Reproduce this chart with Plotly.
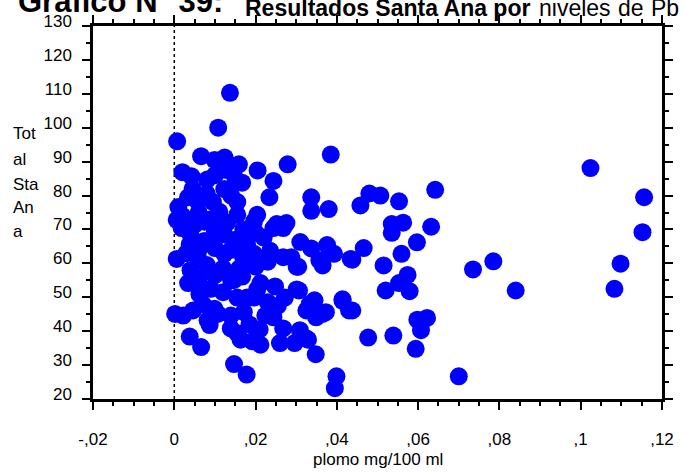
import plotly.graph_objects as go

# Blood lead (mg/100 ml) vs. Santa Ana total score
plomo = [
    0.0385, 0.1024, 0.1156, 0.1152, 0.1098, 0.1083, 0.0840, 0.0785, 0.0735, 0.0700,
    0.0642, 0.0632, 0.0597, 0.0559, 0.0553, 0.0535, 0.0563, 0.0535, 0.0515, 0.0574,
    0.0553, 0.0579, 0.0520, 0.0507, 0.0480, 0.0458, 0.0466, 0.0438, 0.0414, 0.0438,
    0.0477, 0.0539, 0.0594, 0.0598, 0.0622, 0.0607, 0.0399, 0.0395, 0.0337, 0.0337,
    0.0380, 0.0310, 0.0337, 0.0376, 0.0393, 0.0357, 0.0365, 0.0305, 0.0307, 0.0345,
    0.0325, 0.0365, 0.0349, 0.0309, 0.0329, 0.0348,
    0.0137, 0.0108, 0.0007, 0.0066, 0.0099, 0.0124, 0.0159, 0.0205, 0.0279, 0.0244,
    0.0234, 0.0020, 0.0042, 0.0276, 0.0252,
    0.0081, 0.0151, 0.0167, 0.0123, 0.0034, 0.0058, 0.0010, 0.0095, 0.0111, 0.0155,
    0.0155, 0.0204, 0.0196, 0.0244, 0.0268, 0.0006, 0.0018, 0.0050, 0.0074, 0.0123,
    0.0074, 0.0038, 0.0179, 0.0220, 0.0236, 0.0006, 0.0058, 0.0123, 0.0196, 0.0268,
    0.0045, 0.0100, 0.0130, 0.0140, 0.0080, 0.0020, 0.0060, 0.0090, 0.0130, 0.0170,
    0.0100, 0.0040, 0.0150, 0.0200, 0.0060, 0.0100, 0.0140, 0.0170, 0.0030, 0.0080,
    0.0120, 0.0040, 0.0160, 0.0200, 0.0230, 0.0100, 0.0060, 0.0140,
    0.0034, 0.0062, 0.0002, 0.0022, 0.0046, 0.0038, 0.0066, 0.0099, 0.0087, 0.0082,
    0.0139, 0.0155, 0.0171, 0.0192, 0.0212, 0.0147, 0.0178, 0.0224, 0.0244, 0.0268,
    0.0260, 0.0296, 0.0325, 0.0179, 0.0204, 0.0155, 0.0107, 0.0139, 0.0163, 0.0196,
    0.0248, 0.0272, 0.0301, 0.0349, 0.0373, 0.0333, 0.0288, 0.0301, 0.0147, 0.0212,
    0.0167, 0.0414, 0.0430, 0.0434,
    0.0090, 0.0120, 0.0070, 0.0230, 0.0185, 0.0210, 0.0255,
]
santa_ana = [
    92.1, 88.1, 79.5, 69.2, 59.9, 52.5, 52.0, 60.6, 58.2, 26.7,
    81.7, 70.8, 66.2, 62.8, 78.3, 71.6, 72.0, 69.0, 59.4, 56.6,
    54.2, 51.8, 52.0, 80.0, 80.6, 77.1, 64.5, 61.1, 48.9, 46.1,
    38.1, 38.7, 34.8, 43.4, 43.9, 40.3, 26.7, 23.2, 79.5, 75.5,
    76.0, 66.3, 64.4, 65.4, 62.8, 60.9, 59.4, 59.0, 52.0, 49.1,
    46.1, 45.1, 44.1, 40.3, 37.5, 33.2,
    110.3, 100.0, 96.0, 91.6, 90.5, 91.2, 89.2, 87.4, 89.2, 84.3,
    79.5, 86.9, 85.7, 71.9, 71.6,
    84.7, 84.7, 83.8, 81.9, 79.5, 78.1, 76.6, 78.1, 75.2, 78.1,
    74.3, 74.3, 72.3, 70.4, 70.4, 72.8, 70.4, 71.4, 72.3, 68.5,
    66.6, 65.6, 65.6, 67.6, 63.7, 61.3, 61.8, 62.8, 62.8, 61.8,
    82.0, 86.0, 87.5, 80.0, 80.5, 74.0, 75.0, 73.0, 72.0, 70.0,
    69.5, 68.5, 67.0, 69.0, 64.0, 64.5, 64.0, 61.5, 63.0, 59.5,
    58.5, 58.0, 58.5, 59.0, 60.5, 56.5, 55.5, 55.0,
    54.2, 50.9, 45.1, 44.6, 46.1, 38.4, 35.3, 46.6, 41.8, 43.2,
    44.6, 39.4, 45.6, 37.0, 36.0, 30.3, 27.2, 44.6, 44.1, 40.8,
    36.5, 36.5, 37.9, 49.9, 52.3, 49.9, 45.1, 40.8, 37.5, 49.9,
    53.2, 49.9, 52.3, 46.1, 45.6, 48.0, 61.8, 59.0, 55.1, 54.2,
    56.1, 49.4, 46.1, 61.3,
    52.5, 51.5, 48.0, 48.5, 42.0, 40.5, 47.5,
]

x_ticks = [-0.02, 0, 0.02, 0.04, 0.06, 0.08, 0.10, 0.12]
x_tick_text = ["-,02", "0", ",02", ",04", ",06", ",08", ",1", ",12"]
y_ticks = [20, 30, 40, 50, 60, 70, 80, 90, 100, 110, 120, 130]

FONT = "Arial, Liberation Sans, sans-serif"

fig = go.Figure()
fig.add_trace(go.Scatter(
    x=plomo, y=santa_ana, mode="markers",
    marker=dict(size=18, color="#0000FF", line=dict(width=0)),
    cliponaxis=False, showlegend=False,
))

# dotted reference line at zero lead
fig.add_shape(type="line", xref="x", yref="paper", x0=0, x1=0, y0=0, y1=1,
              line=dict(color="black", width=1.5, dash="dot"), layer="below")

axis_common = dict(
    showgrid=False, zeroline=False, showline=True, linecolor="black", linewidth=2.5,
    mirror="allticks", ticks="outside", ticklen=8, tickwidth=2, tickcolor="black",
    tickfont=dict(family=FONT, size=17, color="black"),
)

fig.update_xaxes(
    range=[-0.02, 0.12], tickvals=x_ticks, ticktext=x_tick_text,
    minor=dict(dtick=0.005, ticks="outside", ticklen=4, tickwidth=2, tickcolor="black"),
    ticklabelstandoff=15, **axis_common,
)
fig.update_yaxes(
    range=[20, 130], tickvals=y_ticks,
    minor=dict(dtick=5, ticks="outside", ticklen=4, tickwidth=2, tickcolor="black"),
    ticklabelstandoff=7, ticklabelshift=-5, **axis_common,
)

annotations = [
    dict(text="plomo mg/100 ml", x=0.5, y=-0.163, xref="paper", yref="paper",
         xanchor="center", yanchor="middle", showarrow=False,
         font=dict(family=FONT, size=17, color="black")),
]
y_title_rows = [("Tot", 126), ("al", 152), ("Sta", 178), ("An", 202), ("a", 227)]
for part, py in y_title_rows:
    annotations.append(dict(
        text=part, x=-83 / 578, y=(399 - py) / 384,
        xref="paper", yref="paper", xanchor="left", yanchor="middle",
        showarrow=False, font=dict(family=FONT, size=17, color="black")))

title_parts = [
    ("<b>Grafico N° 39:</b>", 15, 31, 5),
    ("<b>Resultados Santa Ana por</b>", 245, 23, 3),
    ("niveles", 544, 23, 3),
    ("de", 624, 23, 3),
    ("Pb", 658, 23, 3),
]
for text, px, size, shift in title_parts:
    annotations.append(dict(
        text=text, x=(px - 93) / 578, y=1, xref="paper", yref="paper",
        xanchor="left", yanchor="bottom", yshift=shift, showarrow=False,
        font=dict(family=FONT, size=size, color="black")))

fig.update_layout(
    width=686, height=472,
    margin=dict(l=93, r=15, t=15, b=73),
    paper_bgcolor="white", plot_bgcolor="white",
    annotations=annotations,
)

fig.write_html("out.html")
